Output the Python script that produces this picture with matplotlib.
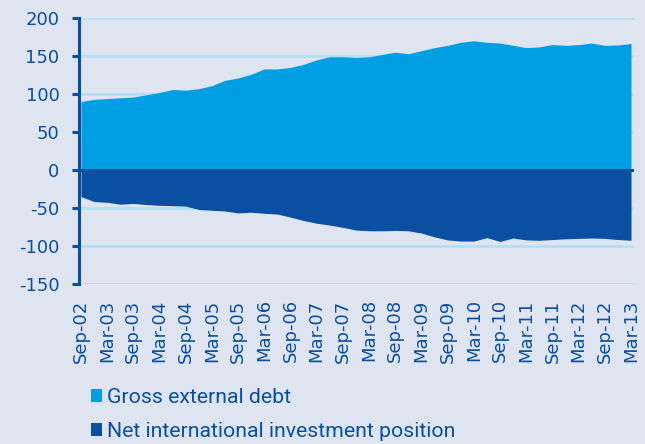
import numpy as np
import matplotlib
matplotlib.use("Agg")
import matplotlib.pyplot as plt
from matplotlib.patches import Patch

# ==========================================================
# Data (% of GDP, quarterly, Sep-02 to Mar-13)
# ==========================================================

gross_external_debt = [
    90, 93, 94, 95, 96, 99, 102, 106, 105, 107,
    111, 118, 121, 126, 133, 133, 135, 139, 145, 149,
    149, 148, 149, 152, 155, 153, 157, 161, 164, 168,
    170, 168, 167, 164, 161, 162, 165, 164, 165, 167,
    164, 164.5, 166.5,
]

net_iip = [
    -35, -41.5, -42.5, -45, -44, -45.5, -46.5, -47, -47.5, -52,
    -53, -54, -56.5, -55.5, -57, -58, -62, -66.5, -70, -72.5,
    -75.5, -79, -80, -80, -79.5, -80, -83, -88, -92, -93.5,
    -93.5, -89, -94, -89.5, -92, -92.5, -91.5, -90.5, -90, -89.5,
    -90, -91.5, -92.5,
]

tick_labels = [
    "Sep-02", "Mar-03", "Sep-03", "Mar-04", "Sep-04", "Mar-05",
    "Sep-05", "Mar-06", "Sep-06", "Mar-07", "Sep-07", "Mar-08",
    "Sep-08", "Mar-09", "Sep-09", "Mar-10", "Sep-10", "Mar-11",
    "Sep-11", "Mar-12", "Sep-12", "Mar-13",
]

series_names = ["Gross external debt", "Net international investment position"]

# ==========================================================
# Colours
# ==========================================================

bg = "#dfe4f1"
light_blue = "#009ee2"
dark_blue = "#0a4fa2"
grid_blue = "#b3e0f6"
text_blue = "#0a4fa0"

plt.rcParams["axes.unicode_minus"] = False

x = np.arange(len(gross_external_debt))

# ==========================================================
# Plot
# ==========================================================

fig = plt.figure(figsize=(6.45, 4.44), dpi=100, facecolor=bg)
ax = fig.add_axes([79 / 645, 1 - 284 / 444, 555 / 645, 266 / 444])
ax.set_facecolor(bg)

ax.fill_between(x, 0, gross_external_debt, color=light_blue, linewidth=0, zorder=3)
ax.fill_between(x, 0, net_iip, color=dark_blue, linewidth=0, zorder=3)
ax.axhline(0, color=dark_blue, linewidth=2.2, zorder=4)

ax.set_ylim(-150, 200)
ax.set_yticks(np.arange(-150, 201, 50))
ax.set_xlim(-0.15, 42.23)
ax.set_xticks(x[::2])
ax.set_xticklabels(tick_labels, rotation=90, va="top", ha="center")

ax.yaxis.grid(True, color=grid_blue, linewidth=2.0, zorder=1)
ax.set_axisbelow(True)

for side in ["top", "right", "bottom"]:
    ax.spines[side].set_visible(False)
ax.spines["left"].set_color(dark_blue)
ax.spines["left"].set_linewidth(2.2)
ax.spines["left"].set_zorder(5)

ax.tick_params(axis="y", colors=dark_blue, length=5, width=2.2,
               labelsize=13, labelcolor=text_blue, pad=9)
ax.tick_params(axis="x", length=0, labelsize=13, labelcolor=text_blue, pad=11)

handles = [Patch(facecolor=light_blue), Patch(facecolor=dark_blue)]
fig.legend(
    handles, series_names,
    loc="upper left",
    bbox_to_anchor=(80 / 645, 1 - 377 / 444),
    frameon=False,
    handlelength=0.55,
    handleheight=0.55,
    handletextpad=0.22,
    labelspacing=0.72,
    borderpad=0,
    prop={"family": "Roboto", "size": 15.3},
    labelcolor=text_blue,
)

fig.savefig("out.png", dpi=100, facecolor=bg)
